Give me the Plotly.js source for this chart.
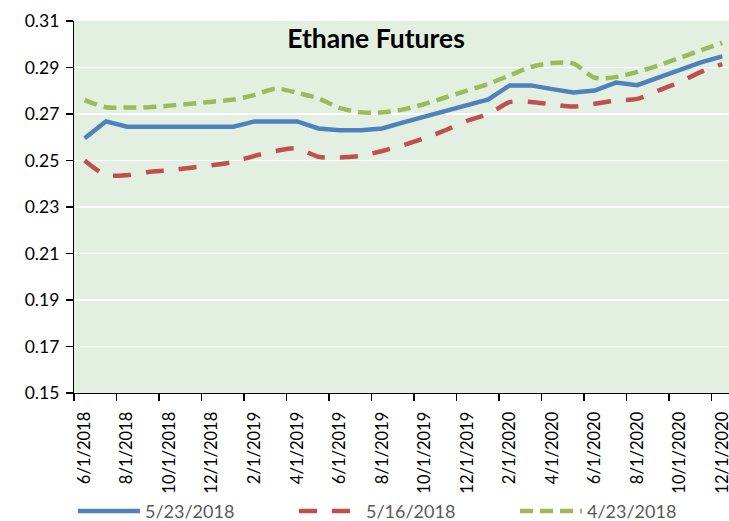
<!DOCTYPE html>
<html>
<head>
<meta charset="utf-8">
<script src="https://cdn.plot.ly/plotly-3.0.1.min.js"></script>
<style>html,body{margin:0;padding:0;background:#fff;}#chart{width:729px;height:521px;}</style>
</head>
<body>
<div id="chart"></div>
<script>
var months = ["6/1/2018","7/1/2018","8/1/2018","9/1/2018","10/1/2018","11/1/2018","12/1/2018",
  "1/1/2019","2/1/2019","3/1/2019","4/1/2019","5/1/2019","6/1/2019","7/1/2019","8/1/2019","9/1/2019",
  "10/1/2019","11/1/2019","12/1/2019","1/1/2020","2/1/2020","3/1/2020","4/1/2020","5/1/2020","6/1/2020",
  "7/1/2020","8/1/2020","9/1/2020","10/1/2020","11/1/2020","12/1/2020"];

var seriesNames = ["5/23/2018", "5/16/2018", "4/23/2018"];

var curve0523 = [0.2596,0.2668,0.2645,0.2645,0.2645,0.2645,0.2645,0.2645,0.2668,0.2668,0.2668,0.2638,0.2630,0.2630,0.2638,0.2664,
  0.2688,0.2713,0.2737,0.2763,0.2823,0.2823,0.2807,0.2793,0.2801,0.2835,0.2824,0.2856,0.2891,0.2922,0.2948];

var curve0516 = [0.2500,0.2438,0.2437,0.2451,0.2458,0.2469,0.2480,0.2494,0.2520,0.2541,0.2552,0.2516,0.2513,0.2520,0.2541,0.2566,
  0.2596,0.2631,0.2671,0.2700,0.2751,0.2752,0.2741,0.2732,0.2744,0.2758,0.2765,0.2801,0.2837,0.2881,0.2915];

var curve0423 = [0.2760,0.2729,0.2728,0.2729,0.2736,0.2744,0.2753,0.2762,0.2782,0.2809,0.2791,0.2767,0.2726,0.2707,0.2707,0.2720,
  0.2743,0.2772,0.2801,0.2830,0.2866,0.2902,0.2919,0.2917,0.2856,0.2859,0.2881,0.2909,0.2942,0.2974,0.3006];

var idx = months.map(function(m, i){ return i; });
var labelIdx = idx.filter(function(i){ return i % 2 === 0; });
var labelText = labelIdx.map(function(i){ return months[i]; });
var boundaries = labelIdx.map(function(i){ return i - 0.5; });

var FONT = "Lato, 'Open Sans', sans-serif";

var traces = [
  {x: idx, y: curve0523, name: seriesNames[0], type: "scatter", mode: "lines",
   line: {color: "#4F81BD", width: 4.5}, hoverinfo: "skip"},
  {x: idx, y: curve0516, name: seriesNames[1], type: "scatter", mode: "lines",
   line: {color: "#C0504D", width: 4.5, dash: "18px,15px", shape: "spline", smoothing: 0.8}, hoverinfo: "skip"},
  {x: idx, y: curve0423, name: seriesNames[2], type: "scatter", mode: "lines",
   line: {color: "#9BBB59", width: 4.5, dash: "13px,7px", shape: "spline", smoothing: 0.8}, hoverinfo: "skip"}
];

var layout = {
  width: 729, height: 521,
  margin: {l: 74, r: 0, t: 21, b: 127.5, pad: 0, autoexpand: false},
  paper_bgcolor: "#ffffff",
  plot_bgcolor: "#E3F0E1",
  font: {family: FONT, color: "#000000", size: 17},
  title: {text: "<b>Ethane Futures</b>", font: {family: FONT, size: 26.5, color: "#000000"},
          x: 376/729, xref: "container", xanchor: "center", y: 1 - 39/521, yref: "container", yanchor: "middle"},
  xaxis: {
    range: [-0.5, 30.32], showgrid: false, zeroline: false,
    showline: true, linecolor: "#000000", linewidth: 1.2,
    tickmode: "array", tickvals: labelIdx, ticktext: labelText,
    ticks: "outside", ticklen: 11, tickcolor: "rgba(0,0,0,0)", tickangle: -90, ticklabeloverflow: "allow",
    tickfont: {family: FONT, size: 16.5, color: "#000000"},
    minor: {tickmode: "array", tickvals: boundaries, ticks: "outside", ticklen: 7, tickwidth: 1.2, tickcolor: "#000000", showgrid: false}
  },
  yaxis: {
    range: [0.15, 0.31], tickmode: "linear", tick0: 0.15, dtick: 0.02, tickformat: ".2f",
    showgrid: true, gridcolor: "#ffffff", gridwidth: 1.6, zeroline: false,
    showline: true, linecolor: "#000000", linewidth: 1.2,
    ticks: "outside", ticklen: 7, tickwidth: 1.2, tickcolor: "#000000", ticklabelstandoff: 3,
    tickfont: {family: FONT, size: 17.5, color: "#000000"}
  },
  showlegend: true,
  legend: {
    orientation: "h", xref: "paper", yref: "paper",
    x: -2/655, xanchor: "left", y: (393.5 - 512) / 372.5, yanchor: "middle",
    indentation: 1,
    entrywidth: 143, entrywidthmode: "pixels", itemwidth: 62,
    bgcolor: "rgba(0,0,0,0)", borderwidth: 0,
    font: {family: FONT, size: 18, color: "#595959"}
  }
};

Plotly.newPlot("chart", traces, layout, {displayModeBar: false, staticPlot: true});
</script>
</body>
</html>
